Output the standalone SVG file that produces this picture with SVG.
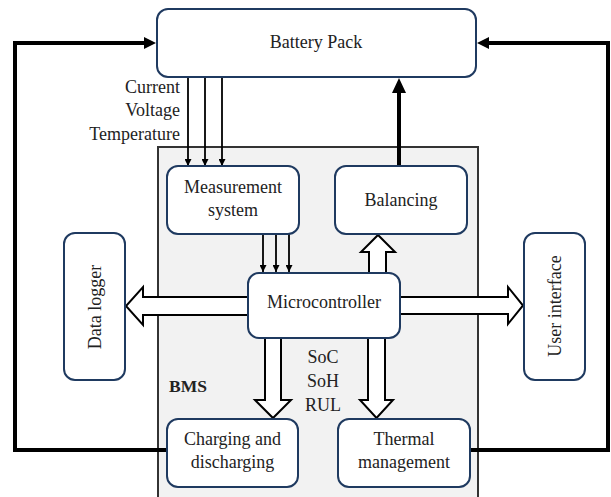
<svg xmlns="http://www.w3.org/2000/svg" width="611" height="497" viewBox="0 0 611 497">
<style>
.box{fill:#fff;stroke:#1f3a60;stroke-width:2}
.t{font-family:"Liberation Serif",serif;font-size:18px;fill:#222;text-anchor:middle}
.lbl{font-family:"Liberation Serif",serif;font-size:18px;fill:#222}
.thin{stroke:#000;stroke-width:1.8;fill:none}
.thick{stroke:#000;stroke-width:4;fill:none}
.hollow{fill:#fff;stroke:#000;stroke-width:2;stroke-linejoin:miter}
</style>
<defs>
<marker id="ah" viewBox="0 0 10 10" refX="10" refY="5" markerWidth="7" markerHeight="7" markerUnits="userSpaceOnUse" orient="auto"><path d="M0,0 L10,5 L0,10 z" fill="#000"/></marker>
</defs>
<rect width="611" height="497" fill="#fff"/>
<g id="bms">
<rect x="158" y="147" width="320" height="360" fill="#f2f2f2" stroke="#333" stroke-width="2"/>
<text x="169" y="392" style="font-family:'Liberation Serif',serif;font-size:17.5px;font-weight:bold;fill:#222">BMS</text>
</g>
<g id="connectors">
<polyline class="thick" points="167,450 15,450 15,43 145,43"/>
<polygon points="144,37 156,43 144,49" fill="#000"/>
<polyline class="thick" points="470,450 608,450 608,43 488,43"/>
<polygon points="489,37 477,43 489,49" fill="#000"/>
<line class="thick" x1="399" y1="166" x2="399" y2="92"/>
<polygon points="392,93 399,78 406,93" fill="#000"/>
<line class="thin" x1="188" y1="77" x2="188" y2="166" marker-end="url(#ah)"/>
<line class="thin" x1="205" y1="77" x2="205" y2="166" marker-end="url(#ah)"/>
<line class="thin" x1="222" y1="77" x2="222" y2="166" marker-end="url(#ah)"/>
<line class="thin" x1="263" y1="234" x2="263" y2="272" marker-end="url(#ah)"/>
<line class="thin" x1="276" y1="234" x2="276" y2="272" marker-end="url(#ah)"/>
<line class="thin" x1="289" y1="234" x2="289" y2="272" marker-end="url(#ah)"/>
<polygon class="hollow" points="260,297 143,297 143,287 126,306 143,325 143,315 260,315"/>
<polygon class="hollow" points="390,297 508,297 508,287 523,305.5 508,324 508,314 390,314"/>
<polygon class="hollow" points="369,280 369,252 361,252 378,235 395,252 386,252 386,280"/>
<polygon class="hollow" points="265,330 265,400 255,400 273,418 291,400 281,400 281,330"/>
<polygon class="hollow" points="368,330 368,400 360,400 376.5,418 393,400 385,400 385,330"/>
</g>
<g id="battery"><rect class="box" x="157" y="9" width="319" height="68" rx="11"/><text class="t" x="316" y="48">Battery Pack</text></g>
<g id="measurement"><rect class="box" x="167" y="166" width="132" height="68" rx="11"/><text class="t" x="233" y="193">Measurement</text><text class="t" x="233" y="216">system</text></g>
<g id="balancing"><rect class="box" x="335" y="166" width="132" height="68" rx="11"/><text class="t" x="401" y="206">Balancing</text></g>
<g id="microcontroller"><rect class="box" x="248" y="273" width="152" height="65" rx="11"/><text class="t" x="324" y="308">Microcontroller</text></g>
<g id="datalogger"><rect class="box" x="64" y="233" width="61" height="147" rx="11"/><text class="t" transform="translate(100.5,307) rotate(-90)">Data logger</text></g>
<g id="userinterface"><rect class="box" x="524" y="233" width="61" height="147" rx="11"/><text class="t" transform="translate(560.5,306) rotate(-90)">User interface</text></g>
<g id="charging"><rect class="box" x="167" y="419" width="131" height="68" rx="11"/><text class="t" x="232.5" y="445">Charging and</text><text class="t" x="232.5" y="468">discharging</text></g>
<g id="thermal"><rect class="box" x="338" y="419" width="132" height="68" rx="11"/><text class="t" x="404" y="445">Thermal</text><text class="t" x="404" y="468">management</text></g>
<g id="labels">
<text class="lbl" x="180" y="93" text-anchor="end">Current</text>
<text class="lbl" x="180" y="116" text-anchor="end">Voltage</text>
<text class="lbl" x="180" y="140" text-anchor="end">Temperature</text>
<text class="t" x="323" y="363">SoC</text>
<text class="t" x="323" y="387">SoH</text>
<text class="t" x="323" y="411">RUL</text>
</g>
</svg>
